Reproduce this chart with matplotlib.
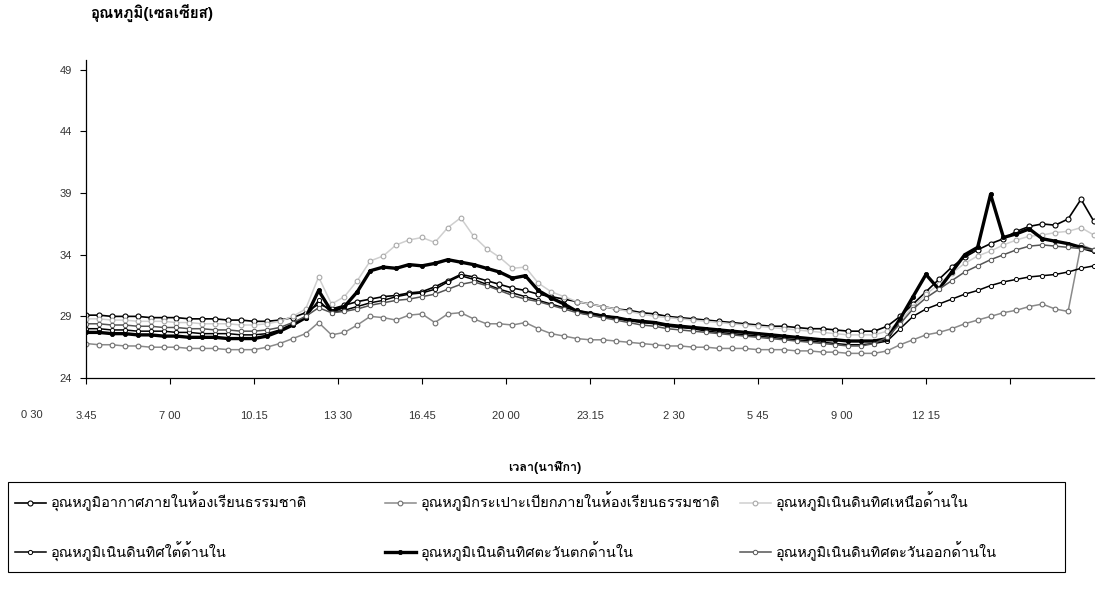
import numpy as np
import matplotlib
matplotlib.use("Agg")
import matplotlib.pyplot as plt
from matplotlib import font_manager, ft2font
from matplotlib.patches import Rectangle

# --- data: half-hour readings, hours counted from 3:45 ---
hours = np.arange(0, 39.5, 0.5)

air_room = [29.1, 29.1, 29.0, 29.0, 29.0, 28.9, 28.9, 28.9, 28.8, 28.8,
            28.8, 28.7, 28.7, 28.6, 28.6, 28.7, 28.9, 29.3, 30.0, 29.6,
            29.9, 30.2, 30.4, 30.6, 30.7, 30.9, 31.0, 31.4, 31.9, 32.4,
            32.2, 31.9, 31.6, 31.3, 31.1, 30.8, 30.6, 30.4, 30.2, 30.0,
            29.8, 29.6, 29.5, 29.3, 29.2, 29.0, 28.9, 28.8, 28.7, 28.6,
            28.5, 28.4, 28.3, 28.2, 28.2, 28.1, 28.0, 28.0, 27.9, 27.8,
            27.8, 27.8, 28.2, 29.0, 30.0, 31.0, 32.0, 33.0, 33.8, 34.4,
            34.9, 35.3, 35.9, 36.3, 36.5, 36.4, 36.9, 38.5, 36.7]
wet_bulb = [26.8, 26.7, 26.7, 26.6, 26.6, 26.5, 26.5, 26.5, 26.4, 26.4,
            26.4, 26.3, 26.3, 26.3, 26.5, 26.8, 27.2, 27.6, 28.5, 27.5,
            27.7, 28.3, 29.0, 28.9, 28.7, 29.1, 29.2, 28.5, 29.2, 29.3,
            28.8, 28.4, 28.4, 28.3, 28.5, 28.0, 27.6, 27.4, 27.2, 27.1,
            27.1, 27.0, 26.9, 26.8, 26.7, 26.6, 26.6, 26.5, 26.5, 26.4,
            26.4, 26.4, 26.3, 26.3, 26.3, 26.2, 26.2, 26.1, 26.1, 26.0,
            26.0, 26.0, 26.2, 26.7, 27.1, 27.5, 27.7, 28.0, 28.4, 28.7,
            29.0, 29.3, 29.5, 29.8, 30.0, 29.6, 29.4, 34.8, 34.4]
north_in = [28.8, 28.8, 28.7, 28.7, 28.6, 28.6, 28.6, 28.5, 28.5, 28.4,
            28.4, 28.4, 28.3, 28.3, 28.4, 28.6, 29.0, 29.6, 32.2, 30.0,
            30.6, 31.9, 33.5, 33.9, 34.8, 35.2, 35.4, 35.0, 36.2, 37.0,
            35.5, 34.5, 33.8, 32.9, 33.0, 31.7, 31.0, 30.6, 30.2, 30.0,
            29.8, 29.6, 29.4, 29.2, 29.0, 28.9, 28.8, 28.7, 28.6, 28.5,
            28.4, 28.3, 28.2, 28.1, 28.0, 27.9, 27.8, 27.7, 27.6, 27.5,
            27.5, 27.5, 27.8, 28.6, 29.8, 30.8, 31.6, 32.5, 33.3, 33.9,
            34.3, 34.8, 35.2, 35.5, 35.6, 35.8, 35.9, 36.2, 35.6]
south_in = [28.0, 28.0, 27.9, 27.9, 27.8, 27.8, 27.8, 27.7, 27.7, 27.6,
            27.6, 27.6, 27.5, 27.5, 27.6, 27.9, 28.4, 28.9, 30.3, 29.3,
            29.5, 29.8, 30.1, 30.3, 30.6, 30.8, 30.9, 31.2, 31.8, 32.3,
            32.0, 31.6, 31.2, 30.9, 30.6, 30.3, 30.0, 29.7, 29.5, 29.3,
            29.1, 28.9, 28.7, 28.5, 28.4, 28.2, 28.1, 28.0, 27.8, 27.7,
            27.6, 27.5, 27.4, 27.3, 27.2, 27.1, 27.0, 26.9, 26.8, 26.7,
            26.7, 26.8, 27.0, 28.0, 29.0, 29.6, 30.0, 30.4, 30.8, 31.1,
            31.5, 31.8, 32.0, 32.2, 32.3, 32.4, 32.6, 32.9, 33.1]
west_in = [27.7, 27.7, 27.6, 27.6, 27.5, 27.5, 27.4, 27.4, 27.3, 27.3,
           27.3, 27.2, 27.2, 27.2, 27.4, 27.8, 28.3, 28.9, 31.1, 29.4,
           29.8, 31.0, 32.7, 33.0, 32.9, 33.2, 33.1, 33.3, 33.6, 33.4,
           33.2, 32.9, 32.6, 32.1, 32.3, 31.1, 30.5, 30.0, 29.4, 29.2,
           29.0, 28.9, 28.7, 28.6, 28.5, 28.3, 28.2, 28.1, 28.0, 27.9,
           27.8, 27.7, 27.6, 27.5, 27.4, 27.3, 27.2, 27.1, 27.1, 27.0,
           27.0, 27.0, 27.2, 28.8, 30.6, 32.4, 31.2, 32.6, 34.0, 34.6,
           38.9, 35.4, 35.7, 36.1, 35.3, 35.1, 34.9, 34.6, 34.3]
east_in = [28.4, 28.4, 28.3, 28.3, 28.2, 28.2, 28.1, 28.1, 28.0, 28.0,
           27.9, 27.9, 27.8, 27.8, 27.9, 28.1, 28.5, 29.0, 29.7, 29.3,
           29.4, 29.6, 29.9, 30.1, 30.3, 30.4, 30.6, 30.8, 31.2, 31.6,
           31.8, 31.5, 31.1, 30.7, 30.4, 30.2, 29.9, 29.6, 29.3, 29.1,
           28.9, 28.7, 28.5, 28.3, 28.2, 28.0, 27.9, 27.8, 27.7, 27.6,
           27.5, 27.4, 27.3, 27.2, 27.1, 27.0, 26.9, 26.8, 26.7, 26.6,
           26.6, 26.8, 27.3, 28.4, 29.6, 30.5, 31.2, 31.9, 32.6, 33.1,
           33.6, 34.0, 34.4, 34.7, 34.8, 34.7, 34.6, 34.5, 34.4]

series_names = ["อุณหภูมิอากาศภายในห้องเรียนธรรมชาติ",
                "อุณหภูมิกระเปาะเปียกภายในห้องเรียนธรรมชาติ",
                "อุณหภูมิเนินดินทิศเหนือด้านใน",
                "อุณหภูมิเนินดินทิศใต้ด้านใน",
                "อุณหภูมิเนินดินทิศตะวันตกด้านใน",
                "อุณหภูมิเนินดินทิศตะวันออกด้านใน"]

tick_labels = ["3.45", "7 00", "10.15", "13 30", "16.45", "20 00",
               "23.15", "2 30", "5 45", "9 00", "12 15", ""]
first_label = "0 30"
y_ticks = [24, 29, 34, 39, 44, 49]


def find_thai_font():
    # look for any installed font that has Thai glyphs
    for f in font_manager.fontManager.ttflist:
        try:
            cmap = ft2font.FT2Font(f.fname).get_charmap()
        except Exception:
            continue
        if 0x0E01 in cmap and 0x0E2D in cmap and 0x0E38 in cmap:
            return f.name
    return None


thai = find_thai_font()
fams = ["Liberation Sans", "DejaVu Sans"]
if thai:
    fams = ["Liberation Sans", thai, "DejaVu Sans"]
plt.rcParams["font.family"] = fams

fig = plt.figure(figsize=(10.98, 5.90), dpi=100)
ax = fig.add_axes([0.0783, 0.3593, 0.918, 0.539])

styles = [
    dict(color="black", lw=1.2, marker="o", ms=3.6, mfc="white", mec="black", mew=0.8),
    dict(color="#8a8a8a", lw=1.1, marker="o", ms=3.4, mfc="white", mec="#6e6e6e", mew=0.8),
    dict(color="#cfcfcf", lw=1.1, marker="o", ms=3.4, mfc="white", mec="#a8a8a8", mew=0.8),
    dict(color="black", lw=1.1, marker="o", ms=3.0, mfc="white", mec="black", mew=0.7),
    dict(color="black", lw=2.4, marker="o", ms=3.0, mfc="black", mec="black", mew=0.6),
    dict(color="#555555", lw=1.1, marker="o", ms=3.2, mfc="white", mec="#555555", mew=0.7),
]
data = [air_room, wet_bulb, north_in, south_in, west_in, east_in]
lines = []
for vals, name, st in zip(data, series_names, styles):
    ln, = ax.plot(hours, vals, label=name, **st)
    lines.append(ln)

ax.set_xlim(0, 39)
ax.set_ylim(24, 49.8)
ax.set_yticks(y_ticks)
ax.set_xticks(np.arange(len(tick_labels)) * 3.25)
ax.set_xticklabels(tick_labels)
ax.text(-2.1, 24 - 2.6, first_label, fontsize=8, color="#333333",
        ha="center", va="top", clip_on=False)

for side in ["top", "right"]:
    ax.spines[side].set_visible(False)
for side in ["left", "bottom"]:
    ax.spines[side].set_linewidth(0.9)
ax.tick_params(axis="x", direction="out", length=4, width=0.8, pad=20,
               labelsize=8, labelcolor="#333333")
ax.tick_params(axis="y", direction="out", length=4, width=0.8, pad=6,
               labelsize=8, labelcolor="#333333")

fig.text(0.082, 0.978, "อุณหภูมิ(เซลเซียส)", fontsize=11, fontweight="bold",
         ha="left", va="center")
fig.text(0.496, 0.207, "เวลา(นาฬิกา)", fontsize=9, fontweight="bold",
         ha="center", va="center")

# legend: one box, three columns placed like the original
fig.add_artist(Rectangle((0.0073, 0.0305), 0.9627, 0.1525, transform=fig.transFigure,
                         fill=False, edgecolor="black", linewidth=0.8))
columns = [(0, 3), (1, 4), (2, 5)]
col_x = [15 / 1098, 385 / 1098, 740 / 1098]
for (a, b), x0 in zip(columns, col_x):
    fig.legend([lines[a], lines[b]], [series_names[a], series_names[b]],
               loc="center left", bbox_to_anchor=(x0, 0.1068),
               fontsize=10.5, frameon=False, handlelength=2.1,
               handletextpad=0.35, labelspacing=2.0, borderpad=0.0,
               borderaxespad=0.0)

fig.savefig("out.png", dpi=100)
